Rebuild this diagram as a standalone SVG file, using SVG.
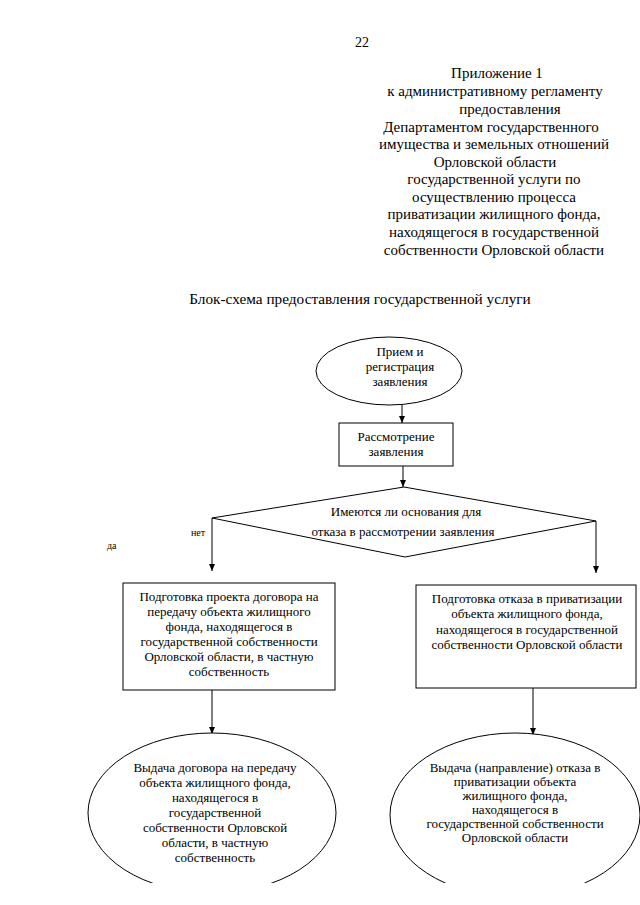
<svg xmlns="http://www.w3.org/2000/svg" width="640" height="905" viewBox="0 0 640 905">
<defs>
<style>
text{font-family:"Liberation Serif","Times New Roman",serif;fill:#000;}
.h{font-size:15px;text-anchor:middle;}
.t{font-size:13px;text-anchor:middle;}
.s{font-size:10px;}
.shape{fill:#fff;stroke:#000;stroke-width:1;}
.ln{fill:none;stroke:#000;stroke-width:1;}
</style>
<marker id="ah" markerWidth="8" markerHeight="8" refX="7" refY="4" orient="auto" markerUnits="userSpaceOnUse">
<path d="M0,1 L7,4 L0,7 Z" fill="#000"/>
</marker>
<clipPath id="cut"><rect x="0" y="0" width="640" height="883"/></clipPath>
</defs>
<rect width="640" height="905" fill="#fff"/>
<g id="header">
<text x="362" y="47" class="h" style="font-size:14px">22</text>
<text class="h" x="497" y="78">Приложение 1</text>
<text class="h" x="495" y="96">к административному регламенту</text>
<text class="h" x="510" y="114">предоставления</text>
<text class="h" x="491" y="132">Департаментом государственного</text>
<text class="h" x="494" y="149">имущества и земельных отношений</text>
<text class="h" x="495" y="167">Орловской области</text>
<text class="h" x="494" y="184">государственной услуги по</text>
<text class="h" x="494" y="202">осуществлению процесса</text>
<text class="h" x="494" y="219">приватизации жилищного фонда,</text>
<text class="h" x="494" y="237">находящегося в государственной</text>
<text class="h" x="494" y="255">собственности Орловской области</text>
<text class="h" x="360" y="304" style="font-size:15.3px">Блок-схема предоставления государственной услуги</text>
</g>
<g id="connectors">
<line class="ln" x1="402" y1="405" x2="402" y2="423" marker-end="url(#ah)"/>
<line class="ln" x1="403" y1="466" x2="403" y2="487" marker-end="url(#ah)"/>
<line class="ln" x1="212" y1="518" x2="212" y2="571" marker-end="url(#ah)"/>
<line class="ln" x1="596" y1="521" x2="596" y2="573" marker-end="url(#ah)"/>
<line class="ln" x1="212" y1="690" x2="212" y2="734" marker-end="url(#ah)"/>
<line class="ln" x1="533" y1="688" x2="533" y2="735" marker-end="url(#ah)"/>
<text class="s" x="191" y="536">нет</text>
<text class="s" x="107" y="549">да</text>
</g>
<g id="n1">
<ellipse class="shape" cx="389" cy="371" rx="73" ry="34"/>
<text class="t" x="400" y="356">Прием и</text>
<text class="t" x="400" y="371">регистрация</text>
<text class="t" x="400" y="386">заявления</text>
</g>
<g id="n2">
<rect class="shape" x="339" y="423" width="114" height="43"/>
<text class="t" x="396" y="441">Рассмотрение</text>
<text class="t" x="396" y="456">заявления</text>
</g>
<g id="n3">
<polygon class="shape" points="212,518 404,487 596,521 405,557"/>
<text class="t" x="406" y="516">Имеются ли основания для</text>
<text class="t" x="403" y="536">отказа в рассмотрении заявления</text>
</g>
<g id="n4">
<rect class="shape" x="123" y="583" width="212" height="107"/>
<text class="t" x="229" y="601">Подготовка проекта договора на</text>
<text class="t" x="229" y="616">передачу объекта жилищного</text>
<text class="t" x="229" y="631">фонда, находящегося в</text>
<text class="t" x="229" y="646">государственной собственности</text>
<text class="t" x="229" y="661">Орловской области, в частную</text>
<text class="t" x="229" y="676">собственность</text>
</g>
<g id="n5">
<rect class="shape" x="416" y="585" width="220" height="103"/>
<text class="t" x="527" y="603">Подготовка отказа в приватизации</text>
<text class="t" x="527" y="618">объекта жилищного фонда,</text>
<text class="t" x="527" y="634">находящегося в государственной</text>
<text class="t" x="527" y="649">собственности Орловской области</text>
</g>
<g id="n6">
<ellipse class="shape" cx="212" cy="813" rx="124" ry="80" clip-path="url(#cut)"/>
<text class="t" x="215" y="772">Выдача  договора на передачу</text>
<text class="t" x="215" y="787">объекта жилищного фонда,</text>
<text class="t" x="215" y="802">находящегося в</text>
<text class="t" x="215" y="817">государственной</text>
<text class="t" x="215" y="832">собственности Орловской</text>
<text class="t" x="215" y="847">области, в частную</text>
<text class="t" x="215" y="862">собственность</text>
</g>
<g id="n7">
<ellipse class="shape" cx="515" cy="815" rx="125" ry="82" clip-path="url(#cut)"/>
<text class="t" x="515" y="772">Выдача (направление) отказа в</text>
<text class="t" x="515" y="786">приватизации объекта</text>
<text class="t" x="515" y="800">жилищного фонда,</text>
<text class="t" x="515" y="814">находящегося в</text>
<text class="t" x="515" y="828">государственной собственности</text>
<text class="t" x="515" y="842">Орловской области</text>
</g>
</svg>
